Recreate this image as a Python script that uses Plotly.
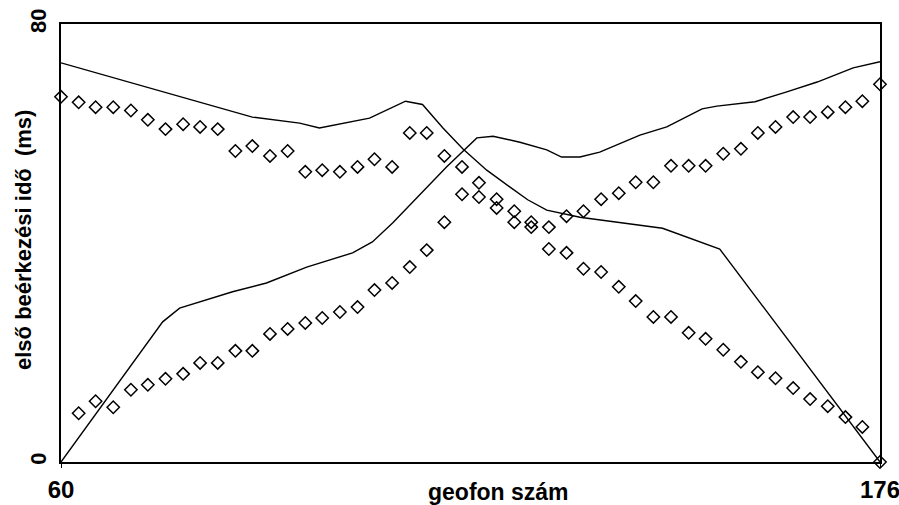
import plotly.graph_objects as go

# geophone positions of the picked arrival times
geophone = [60.0, 62.5, 64.9, 67.4, 69.9, 72.3, 74.8, 77.3, 79.7, 82.2,
            84.7, 87.1, 89.6, 92.1, 94.6, 97.0, 99.5, 102.0, 104.4, 106.9,
            109.4, 111.8, 114.3, 116.8, 119.2, 121.7, 124.2, 126.6, 129.1, 131.6,
            134.0, 136.5, 139.0, 141.4, 143.9, 146.4, 148.9, 151.3, 153.8, 156.3,
            158.7, 161.2, 163.7, 166.1, 168.6, 171.1, 173.5, 176.0]

# measured first arrivals, shot at 176 (decreasing to the right)
meas_a = [66.7, 65.7, 64.8, 64.8, 64.2, 62.5, 60.8, 61.7, 61.2, 60.8,
          56.8, 57.7, 55.9, 56.8, 53.0, 53.3, 53.0, 53.9, 55.3, 53.9,
          60.1, 60.1, 55.9, 53.9, 51.0, 48.0, 45.8, 43.8, 38.9, 38.2,
          35.3, 34.7, 32.0, 29.4, 26.5, 26.5, 23.6, 22.5, 20.5, 18.3,
          16.4, 15.3, 13.5, 11.5, 10.2, 8.2, 6.4, 0.0]

# measured first arrivals, shot at 60 (increasing to the right)
meas_b = [None, 8.9, 11.1, 10.0, 13.2, 14.1, 15.2, 16.1, 18.1, 18.1,
          20.3, 20.3, 23.4, 24.3, 25.4, 26.3, 27.4, 28.3, 31.4, 32.7,
          35.6, 38.7, 43.8, 48.9, 48.4, 46.4, 43.8, 42.9, 42.9, 44.9,
          45.8, 48.0, 49.1, 51.1, 51.1, 54.1, 54.1, 54.1, 56.3, 57.2,
          60.1, 61.2, 63.0, 63.0, 63.9, 64.8, 65.9, 69.0]

# modelled travel-time curves
model_a_x = [60.0, 87.1, 93.8, 96.6, 103.7, 108.8, 111.2, 114.1, 116.9, 120.3,
             123.6, 126.1, 128.8, 133.5, 145.2, 153.3, 176.0]
model_a_y = [72.9, 63.0, 61.9, 61.0, 62.8, 65.9, 65.3, 61.0, 57.2, 53.3,
             50.2, 47.9, 46.0, 44.7, 42.7, 38.9, 0.0]

model_b_x = [60.0, 74.4, 76.8, 84.3, 89.1, 94.8, 101.3, 104.1, 107.0, 110.1,
             114.6, 118.9, 121.2, 125.0, 128.8, 130.9, 133.5, 136.3, 142.0, 145.8,
             150.8, 152.9, 158.3, 162.8, 167.1, 172.2, 176.0]
model_b_y = [0.0, 25.6, 28.1, 31.1, 32.7, 35.6, 38.2, 40.2, 43.7, 47.9,
             53.9, 59.2, 59.5, 58.4, 57.0, 55.7, 55.7, 56.6, 59.7, 61.2,
             64.5, 65.0, 65.8, 67.6, 69.4, 72.0, 73.1]

x_ticks = [60, 176]
y_ticks = [0, 80]

FONT = "Liberation Sans, Arial, sans-serif"

fig = go.Figure()
line_style = dict(color="black", width=1.4)
fig.add_trace(go.Scatter(x=model_a_x, y=model_a_y, mode="lines", line=line_style,
                         showlegend=False, hoverinfo="skip"))
fig.add_trace(go.Scatter(x=model_b_x, y=model_b_y, mode="lines", line=line_style,
                         showlegend=False, hoverinfo="skip"))
marker_style = dict(symbol="diamond-open", size=9.5, color="black",
                    line=dict(color="black", width=1.5))
fig.add_trace(go.Scatter(x=geophone, y=meas_a, mode="markers", marker=marker_style,
                         showlegend=False, cliponaxis=False))
fig.add_trace(go.Scatter(x=geophone, y=meas_b, mode="markers", marker=marker_style,
                         showlegend=False, cliponaxis=False))

fig.update_layout(
    width=899, height=505,
    margin=dict(l=61, r=19, t=24, b=43, autoexpand=False),
    paper_bgcolor="white", plot_bgcolor="white",
    font=dict(family=FONT, color="black"),
    xaxis=dict(range=[60, 176], tickvals=x_ticks, ticktext=[str(v) for v in x_ticks],
               showgrid=False, zeroline=False, showline=True, mirror=True,
               linecolor="black", linewidth=1.5, ticks="outside", ticklen=4,
               tickcolor="black", tickfont=dict(size=24, family=FONT, weight="bold"),
               ticklabelstandoff=1, automargin=False, ticklabeloverflow="allow"),
    yaxis=dict(range=[0, 80], tickvals=y_ticks, ticktext=[str(v) for v in y_ticks],
               showgrid=False, zeroline=False, showline=True, mirror=True,
               linecolor="black", linewidth=1.5, ticks="", tickangle=-90,
               tickfont=dict(size=22, family=FONT, weight="bold"),
               ticklabelstandoff=4, automargin=False, ticklabeloverflow="allow"),
    annotations=[
        dict(text="geofon szám", showarrow=False, xref="paper", yref="paper",
             font=dict(size=23, family=FONT, weight="bold")),
        dict(text="első beérkezési idő \u00a0(ms)", showarrow=False,
             xref="paper", yref="paper", textangle=-90,
             font=dict(size=22, family=FONT, weight="bold")),
    ],
)

# place titles in pixel terms relative to the plot area
pw = 899 - 61 - 19
ph = 505 - 24 - 43
fig.layout.annotations[0].update(x=(498 - 61) / pw, y=(462 - 492) / ph,
                                 xanchor="center", yanchor="middle")
fig.layout.annotations[1].update(x=(23 - 61) / pw, y=(462 - 240) / ph,
                                 xanchor="center", yanchor="middle")

fig.write_html("out.html",
               config={"displayModeBar": False},
               post_script="document.body.style.margin='0px';"
                           "document.body.style.overflow='hidden';")
